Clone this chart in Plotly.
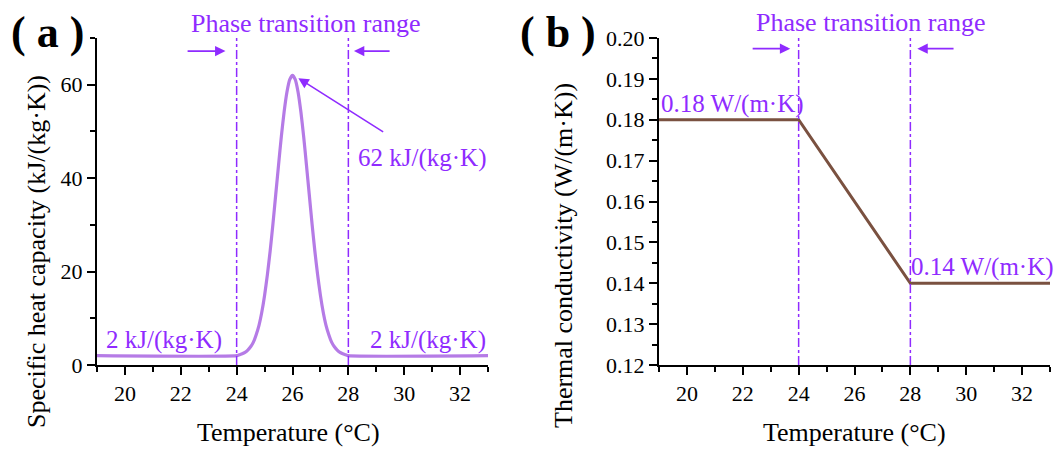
import plotly.graph_objects as go

# ---------------- data ----------------
# (a) specific heat capacity, kJ/(kg·K)
temp_a = [19.0, 24.0, 24.1, 24.2, 24.3, 24.4, 24.5, 24.6, 24.7, 24.8, 24.9,
          25.0, 25.1, 25.2, 25.3, 25.4, 25.5, 25.6, 25.7, 25.8, 25.9,
          26.0, 26.1, 26.2, 26.3, 26.4, 26.5, 26.6, 26.7, 26.8, 26.9,
          27.0, 27.1, 27.2, 27.3, 27.4, 27.5, 27.6, 27.7, 27.8, 27.9, 28.0, 33.0]
cp_a = [2.0, 2.0, 2.2, 2.4, 2.7, 3.2, 3.9, 4.9, 6.5, 8.5, 11.3,
        14.9, 19.3, 24.4, 30.2, 36.5, 42.8, 48.9, 54.2, 58.4, 61.1,
        62.0, 61.1, 58.4, 54.2, 48.9, 42.8, 36.5, 30.2, 24.4, 19.3,
        14.9, 11.3, 8.5, 6.5, 4.9, 3.9, 3.2, 2.7, 2.4, 2.2, 2.0, 2.0]

# (b) thermal conductivity, W/(m·K)
temp_b = [19, 24, 28, 33]
k_b = [0.18, 0.18, 0.14, 0.14]

phase_bounds = [24, 28]
x_ticks = [20, 22, 24, 26, 28, 30, 32]

VIOLET = "#8F2BFF"
CURVE_A = "#B57BE6"
CURVE_B = "#7A5140"
FONT = "Liberation Serif"

# page body has an 8px margin; the figure is placed at (8, 8)
OFF = 8
W, H = 1054, 448
def px(x):
    return (x - OFF) / W
def py(y):
    return 1 - (y - OFF) / H

fig = go.Figure()

fig.add_trace(go.Scatter(x=temp_a, y=cp_a, mode="lines",
                         line=dict(color=CURVE_A, width=3.2, shape="spline", smoothing=0.6),
                         xaxis="x", yaxis="y", showlegend=False))
fig.add_trace(go.Scatter(x=temp_b, y=k_b, mode="lines",
                         line=dict(color=CURVE_B, width=3),
                         xaxis="x2", yaxis="y2", showlegend=False))

# vertical phase boundary lines
for xa, ya in (("x", "y"), ("x2", "y2")):
    for xb in phase_bounds:
        fig.add_shape(type="line", xref=xa, yref=ya + " domain", x0=xb, x1=xb, y0=0, y1=1,
                      line=dict(color=VIOLET, width=1.5, dash="dashdot"))

axis_common = dict(showline=True, linecolor="black", linewidth=2, ticks="outside",
                   ticklen=8, tickwidth=2, tickcolor="black", showgrid=False, zeroline=False,
                   mirror=False, automargin=False,
                   tickfont=dict(family=FONT, size=22, color="black"))

xa_dom = [px(97), px(488)]
xb_dom = [px(659), px(1050)]
y_dom = [py(365), py(38)]

fig.update_layout(
    template="none",
    width=W, height=H,
    margin=dict(l=0, r=0, t=0, b=0, pad=0),
    paper_bgcolor="white", plot_bgcolor="white",
    xaxis=dict(domain=xa_dom, range=[19, 33], anchor="y", tickvals=x_ticks,
               minor=dict(dtick=1, tick0=19, ticks="outside", ticklen=5, tickwidth=1.5, tickcolor="black"),
               **axis_common),
    yaxis=dict(domain=y_dom, range=[0, 70], anchor="x", tickvals=[0, 20, 40, 60],
               minor=dict(dtick=10, tick0=0, ticks="outside", ticklen=5, tickwidth=1.5, tickcolor="black"),
               **axis_common),
    xaxis2=dict(domain=xb_dom, range=[19, 33], anchor="y2", tickvals=x_ticks,
                minor=dict(dtick=1, tick0=19, ticks="outside", ticklen=5, tickwidth=1.5, tickcolor="black"),
                **axis_common),
    yaxis2=dict(domain=y_dom, range=[0.12, 0.20], anchor="x2", dtick=0.01, tickformat=".2f",
                minor=dict(dtick=0.005, tick0=0.12, ticks="outside", ticklen=5, tickwidth=1.5, tickcolor="black"),
                **axis_common),
)

ann = []
def text(x, y, s, size=25, color=VIOLET, xref="paper", yref="paper", xanchor="center",
         yanchor="middle", angle=0, family=FONT, xshift=0):
    ann.append(dict(x=x, y=y, xref=xref, yref=yref, text=s, showarrow=False,
                    xanchor=xanchor, yanchor=yanchor, textangle=angle, xshift=xshift,
                    font=dict(family=family, size=size, color=color)))

# panel labels
text(px(47), py(33), "<b>( a )</b>", size=44, color="black")
text(px(558), py(33), "<b>( b )</b>", size=44, color="black")

# axis titles
text(px(288), py(432), "Temperature (°C)", size=26, color="black")
text(px(854), py(432), "Temperature (°C)", size=26, color="black")
text(px(37), py(252), "Specific heat capacity (kJ/(kg·K))", size=26, color="black", angle=-90)
text(px(563), py(256), "Thermal conductivity (W/(m·K))", size=26, color="black", angle=-90)

# phase transition labels
text(px(306), py(23), "Phase transition range", size=26)
text(px(871), py(22), "Phase transition range", size=26)

# value labels (a)
text(19.25, 2, "2 kJ/(kg·K)", xref="x", yref="y", xanchor="left", yanchor="bottom")
text(33, 2, "2 kJ/(kg·K)", xref="x", yref="y", xanchor="right", yanchor="bottom")
text(33, py(158), "62 kJ/(kg·K)", xref="x", yref="paper", xanchor="right")

# value labels (b)
text(19.0, 0.18, "0.18 W/(m·K)", xref="x2", yref="y2", xanchor="left", yanchor="bottom")
text(33.0, 0.14, "0.14 W/(m·K)", xref="x2", yref="y2", xanchor="right", yanchor="bottom", xshift=6)

# arrows
def arrow(x0, y0, x1, y1, xref, yref):
    ann.append(dict(x=x1, y=y1, ax=x0, ay=y0, xref=xref, yref=yref, axref=xref, ayref=yref,
                    showarrow=True, arrowhead=2, arrowsize=1.3, arrowwidth=1.6,
                    arrowcolor=VIOLET, text=""))

arrow(22.19, 67.2, 23.6, 67.2, "x", "y")
arrow(29.53, 67.2, 28.2, 67.2, "x", "y")
arrow(29.3, 49.7, 26.21, 61.4, "x", "y")
arrow(22.3, 0.1974, 23.7, 0.1974, "x2", "y2")
arrow(29.6, 0.1974, 28.25, 0.1974, "x2", "y2")

fig.update_layout(annotations=ann)
fig.write_html("out.html")
